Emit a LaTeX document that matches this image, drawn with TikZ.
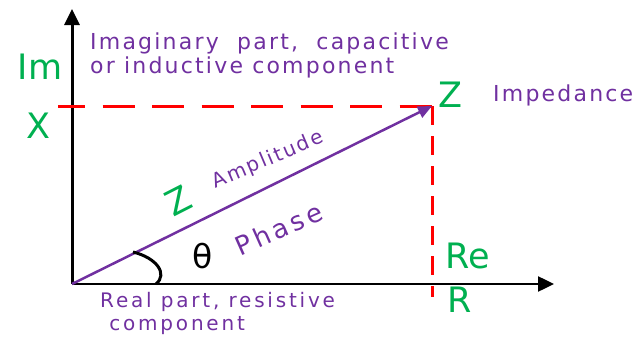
\documentclass[tikz,border=0pt]{standalone}
\usepackage{fontspec}
\setmainfont{DejaVu Sans}
\usetikzlibrary{arrows.meta}
\definecolor{mygreen}{RGB}{0,176,80}
\definecolor{mypurple}{RGB}{112,48,160}
\definecolor{myred}{RGB}{255,0,0}
\begin{document}
\begin{tikzpicture}[x=1pt,y=-1pt,
  axis/.style={black,line width=3pt,-{Triangle[length=16pt,width=15pt]}},
  dashline/.style={myred,line width=3pt},
  green/.style={text=mygreen,inner sep=0pt,font=\fontsize{35}{36}\selectfont},
  ptext/.style={text=mypurple,inner sep=0pt,font=\fontsize{22}{24}\selectfont\addfontfeature{LetterSpace=10}},
  ]
\useasboundingbox (0,0) rectangle (641,340);
\coordinate (O) at (72,284);
\coordinate (Ytop) at (72,9);
\coordinate (Xend) at (554,284);
\coordinate (Z) at (432,106);
\coordinate (Xl) at (58,106);
\coordinate (Rb) at (432,297);
\draw[axis] (O) -- (Ytop);
\draw[axis,line width=2.5pt] (O) -- (Xend);
\draw[dashline,dash pattern=on 32pt off 17.5pt,dash phase=5pt] (Xl) -- (Z);
\draw[dashline,dash pattern=on 19pt off 11pt] (Z) -- (Rb);
\draw[mypurple,line width=2.5pt,-{Triangle[length=14pt,width=12pt]}] (O) -- (Z);
\draw[black,line width=3pt] (133,252) .. controls (157,258) and (168,274) .. (156,284);
\node[green] (im) at (40,67) {Im};
\node[green] (x) at (38,126) {X};
\node[green] (zl) at (450,95) {Z};
\node[green] (re) at (468,256) {Re};
\node[green] (r) at (460,300) {R};
\node[green,rotate=27] (zr) at (178,201) {Z};
\node[inner sep=0pt,font=\fontsize{33}{34}\selectfont] (th) at (203,256) {θ};
\node[ptext,align=left,anchor=north west] (imag) at (90,33) {Imaginary\ \ part,\ \ capacitive\\or inductive component};
\node[ptext,anchor=west] (imp) at (493,95) {Impedance};
\node[ptext,font=\fontsize{20}{23}\selectfont\addfontfeature{LetterSpace=14},align=left,anchor=north west] (real) at (100,292) {Real part, resistive\\\ component};
\node[ptext,rotate=23,font=\fontsize{20}{24}\selectfont\addfontfeature{LetterSpace=10}] (amp) at (268,160) {Amplitude};
\node[ptext,rotate=24,font=\fontsize{26}{28}\selectfont\addfontfeature{LetterSpace=14}] (ph) at (279,229) {Phase};
\end{tikzpicture}
\end{document}
